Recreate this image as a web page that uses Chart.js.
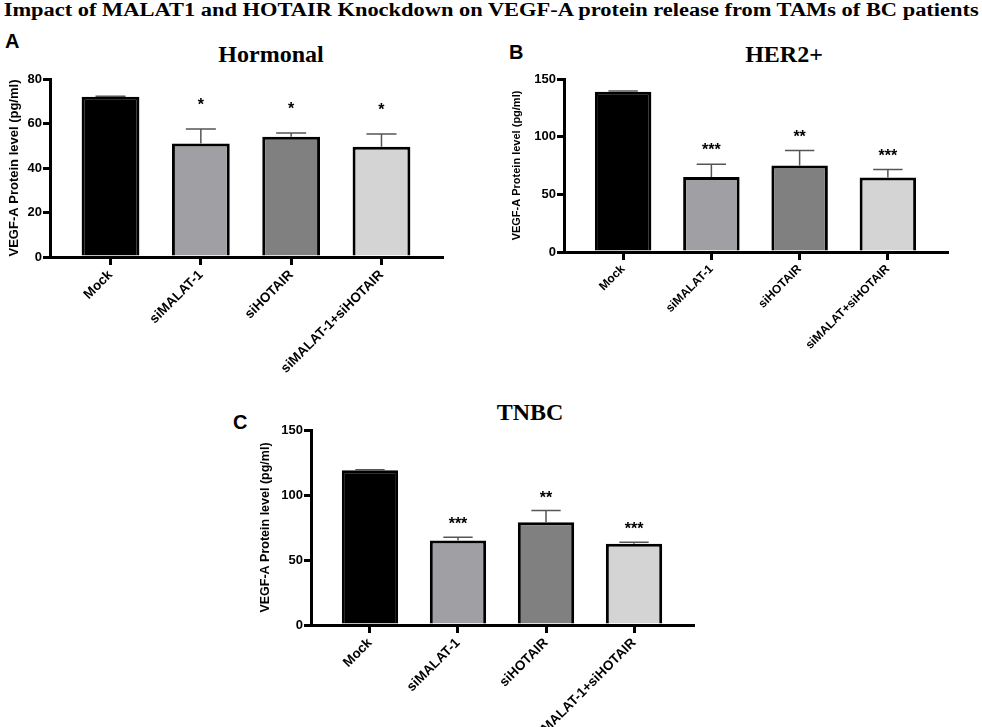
<!DOCTYPE html>
<html lang="en">
<head>
  <meta charset="UTF-8">
  <title>MALAT1 / HOTAIR knockdown - VEGF-A release</title>
  <style>
    body {
      margin: 0;
      width: 982px;
      height: 727px;
      position: relative;
      overflow: hidden;
      background: #fff;
      color: #000;
    }
    .main-title {
      position: absolute;
      left: 0;
      top: 1px;
      width: 982px;
      text-align: center;
      font: bold 18px/18px "Liberation Serif", "Times New Roman", serif;
      white-space: nowrap;
    }
    .main-title span {
      display: inline-block;
      transform-origin: center;
    }
    .panel-title {
      position: absolute;
      font: bold 24px/24px "Liberation Serif", "Times New Roman", serif;
      white-space: nowrap;
      transform: translateX(-50%);
    }
    .letter {
      position: absolute;
      font: bold 20px/20px "Liberation Sans", Arial, sans-serif;
    }
    .chart-box {
      position: absolute;
    }
  </style>
</head>
<body>
  <div class="main-title"><span id="mainTitle">Impact of MALAT1 and HOTAIR Knockdown on VEGF-A protein release from TAMs of BC patients</span></div>

  <div class="letter" style="left:5px; top:31px;">A</div>
  <div class="letter" style="left:509px; top:42px;">B</div>
  <div class="letter" style="left:233px; top:412px;">C</div>

  <div class="panel-title" style="left:271px; top:42px;">Hormonal</div>
  <div class="panel-title" style="left:784px; top:42px;">HER2+</div>
  <div class="panel-title" style="left:530px; top:400px;">TNBC</div>

  <div class="chart-box" style="left:0; top:60px; width:470px; height:320px;"><canvas id="chartA"></canvas></div>
  <div class="chart-box" style="left:500px; top:60px; width:482px; height:320px;"><canvas id="chartB"></canvas></div>
  <div class="chart-box" style="left:240px; top:410px; width:480px; height:317px;"><canvas id="chartC"></canvas></div>

  <script src="https://cdn.jsdelivr.net/npm/chart.js"></script>
  <script>
    // groups
    const groupsAC = ['Mock', 'siMALAT-1', 'siHOTAIR', 'siMALAT-1+siHOTAIR'];
    const groupsB = ['Mock', 'siMALAT-1', 'siHOTAIR', 'siMALAT+siHOTAIR'];

    // Hormonal
    const hormonalMean = [72, 51, 54, 49.5];
    const hormonalSd = [0.3, 6.5, 1.7, 5.8];
    const hormonalStars = ['', '*', '*', '*'];

    // HER2+
    const her2Mean = [139, 65, 75, 64.5];
    const her2Sd = [0.5, 11, 13, 7];
    const her2Stars = ['', '***', '**', '***'];

    // TNBC
    const tnbcMean = [119, 65, 79, 62.5];
    const tnbcSd = [0.5, 2.5, 9, 1.2];
    const tnbcStars = ['', '***', '**', '***'];

    const ticksHormonal = [0, 20, 40, 60, 80];
    const ticksHer2 = [0, 50, 100, 150];
    const ticksTnbc = [0, 50, 100, 150];

    const barColors = ['#000000', '#a0a0a4', '#808080', '#d4d4d4'];
    const yTitle = 'VEGF-A Protein level (pg/ml)';
    const sans = '"Liberation Sans", Arial, sans-serif';

    // stretch the figure title over the full width like the original
    const titleSpan = document.getElementById('mainTitle');
    titleSpan.style.transform = 'scaleX(' + (975 / titleSpan.getBoundingClientRect().width) + ')';

    // error bars (upward only) and significance stars
    const errorBars = {
      id: 'errorBars',
      afterDatasetsDraw(chart, args, opts) {
        const ctx = chart.ctx;
        const x = chart.scales.x;
        const y = chart.scales.y;
        const bars = chart.getDatasetMeta(0).data;
        ctx.save();
        opts.mean.forEach((m, i) => {
          const cx = x.getPixelForValue(i);
          const yMean = y.getPixelForValue(m);
          const yTop = y.getPixelForValue(m + opts.sd[i]);
          const half = bars[i].width * 0.26;
          ctx.strokeStyle = '#555';
          ctx.lineWidth = 1.5;
          ctx.beginPath();
          ctx.moveTo(cx, yMean);
          ctx.lineTo(cx, yTop);
          ctx.moveTo(cx - half, yTop);
          ctx.lineTo(cx + half, yTop);
          ctx.stroke();
          if (opts.stars[i]) {
            ctx.fillStyle = '#000';
            ctx.font = 'bold 16px ' + sans;
            ctx.textAlign = 'center';
            ctx.textBaseline = 'alphabetic';
            ctx.fillText(opts.stars[i], cx, yTop - opts.starGap + 0.57 * 16);
          }
        });
        ctx.restore();
      }
    };

    function makePanel(id, p) {
      const top = p.yTicks[p.yTicks.length - 1];
      return new Chart(document.getElementById(id), {
        type: 'bar',
        data: {
          datasets: [{
            data: p.mean.map((v, i) => ({ x: i, y: v })),
            backgroundColor: barColors,
            borderColor: '#000',
            borderWidth: 3,
            barPercentage: 0.64,
            categoryPercentage: 1
          }]
        },
        options: {
          responsive: true,
          maintainAspectRatio: false,
          animation: false,
          layout: { padding: p.pad },
          plugins: {
            legend: { display: false },
            tooltip: { enabled: false },
            errorBars: { mean: p.mean, sd: p.sd, stars: p.stars, starGap: p.starGap }
          },
          scales: {
            x: {
              type: 'linear',
              offset: false,
              min: -0.67,
              max: 3.67,
              afterBuildTicks: s => { s.ticks = p.labels.map((_, i) => ({ value: i })); },
              afterFit: s => { s.height = p.xh; },
              ticks: {
                autoSkip: false,
                minRotation: 45,
                maxRotation: 45,
                padding: 2,
                color: '#000',
                font: { family: sans, size: p.xFont, weight: 'bold' },
                callback: v => p.labels[v]
              },
              grid: { offset: false, drawOnChartArea: false, color: '#000', lineWidth: 3, tickLength: 8 },
              border: { color: '#000', width: 3 }
            },
            y: {
              min: 0,
              max: top,
              afterBuildTicks: s => { s.ticks = p.yTicks.map(v => ({ value: v })); },
              afterFit: s => { s.width = p.yw; },
              ticks: {
                padding: 1,
                color: '#000',
                font: { family: sans, size: 13, weight: 'bold' }
              },
              title: {
                display: true,
                text: yTitle,
                color: '#000',
                font: { family: sans, size: p.titleFont, weight: 'bold' },
                padding: { top: p.titlePad, bottom: 0 }
              },
              grid: { drawOnChartArea: false, color: '#000', lineWidth: 3, tickLength: 7 },
              border: { color: '#000', width: 3 }
            }
          }
        },
        plugins: [errorBars]
      });
    }

    makePanel('chartA', {
      labels: groupsAC, mean: hormonalMean, sd: hormonalSd, stars: hormonalStars, yTicks: ticksHormonal,
      pad: { left: 0, top: 19, right: 28, bottom: 0 }, yw: 50, xh: 123,
      xFont: 13.5, titleFont: 13, titlePad: 7, starGap: 28
    });
    makePanel('chartB', {
      labels: groupsB, mean: her2Mean, sd: her2Sd, stars: her2Stars, yTicks: ticksHer2,
      pad: { left: 0, top: 19, right: 35, bottom: 0 }, yw: 64, xh: 128,
      xFont: 12, titleFont: 11, titlePad: 10, starGap: 18
    });
    makePanel('chartC', {
      labels: groupsAC, mean: tnbcMean, sd: tnbcSd, stars: tnbcStars, yTicks: ticksTnbc,
      pad: { left: 0, top: 20, right: 27, bottom: 0 }, yw: 71, xh: 102,
      xFont: 13.5, titleFont: 12.5, titlePad: 18, starGap: 17
    });
  </script>
</body>
</html>
